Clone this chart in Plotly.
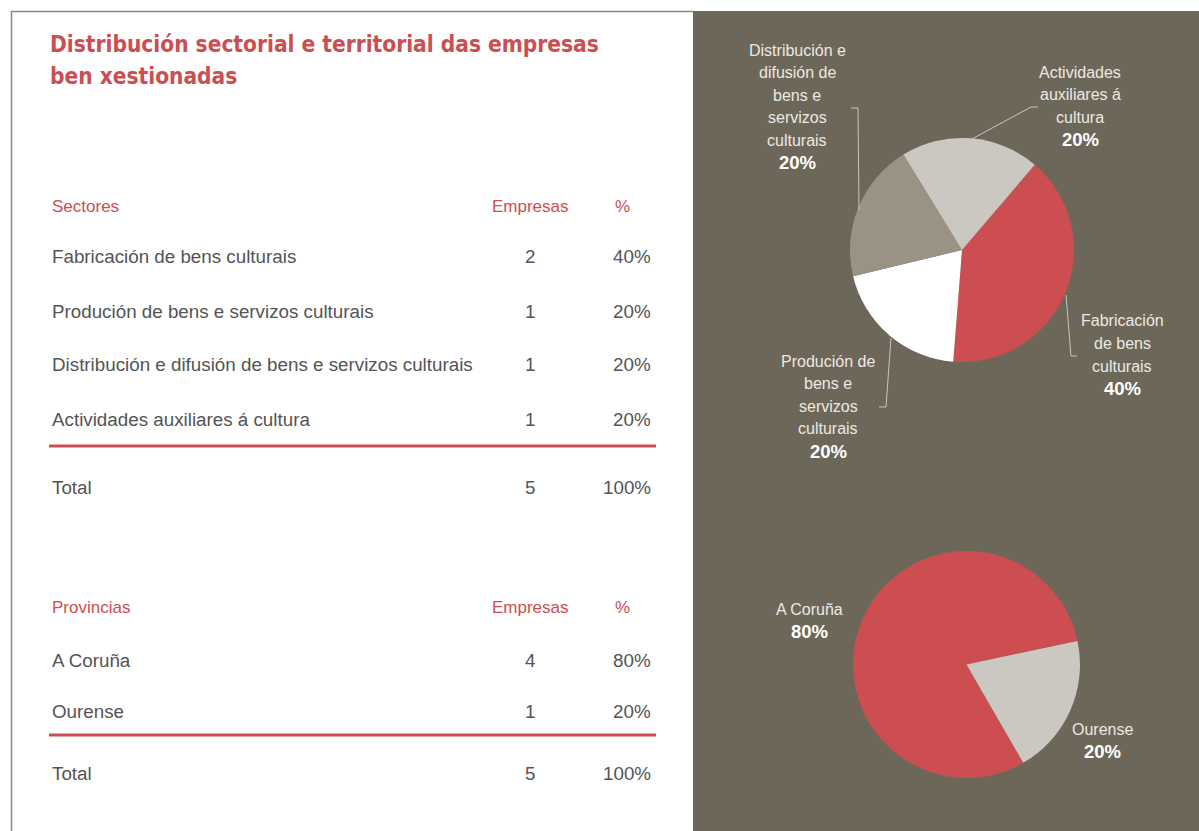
import plotly.graph_objects as go

W, H = 1199, 831

# ---------------- data ----------------
title_lines = ["Distribución sectorial e territorial das empresas", "ben xestionadas"]
col_headers = ["Empresas", "%"]

sectores = ["Fabricación de bens culturais",
            "Produción de bens e servizos culturais",
            "Distribución e difusión de bens e servizos culturais",
            "Actividades auxiliares á cultura"]
sect_empresas = [2, 1, 1, 1]
sect_pct = ["40%", "20%", "20%", "20%"]
sect_total = [5, "100%"]

provincias = ["A Coruña", "Ourense"]
prov_empresas = [4, 1]
prov_pct = ["80%", "20%"]
prov_total = [5, "100%"]

sect_pie_labels = ["Fabricación<br>de bens<br>culturais",
                   "Produción de<br>bens e<br>servizos<br>culturais",
                   "Distribución e<br>difusión de<br>bens e<br>servizos<br>culturais",
                   "Actividades<br>auxiliares á<br>cultura"]
prov_pie_labels = ["A Coruña", "Ourense"]

# ---------------- style ----------------
RED = "#cc4e50"
PANEL = "#6d675a"
TXT = "#545454"
LBL = "#ece9e2"
sect_colors = [RED, "#ffffff", "#9a9384", "#cbc8c1"]
prov_colors = [RED, "#cbc8c1"]
FONT = "DejaVu Sans Condensed, Liberation Sans Narrow, Liberation Sans, Arial, sans-serif"
TFONT = "Liberation Sans, Arial, sans-serif"


def px(x):
    return x / W


def py(y):
    return 1 - y / H


fig = go.Figure()


def dom(x0, x1, y0, y1):
    return dict(x=[px(x0), px(x1)], y=[py(y1), py(y0)])


fig.add_trace(go.Pie(
    labels=sectores, values=sect_empresas, sort=False, direction="clockwise",
    rotation=40.5, marker=dict(colors=sect_colors, line=dict(width=0)),
    textinfo="none", domain=dom(850, 1074, 138, 362), showlegend=False,
    hoverinfo="label+percent"))

fig.add_trace(go.Pie(
    labels=provincias, values=prov_empresas, sort=False, direction="clockwise",
    rotation=150, marker=dict(colors=prov_colors, line=dict(width=0)),
    textinfo="none", domain=dom(853, 1080, 551, 778), showlegend=False,
    hoverinfo="label+percent"))

shapes = []
annotations = []

# panel & border
shapes.append(dict(type="rect", xref="paper", yref="paper", x0=px(693), x1=1, y0=0, y1=py(11),
                   fillcolor=PANEL, line=dict(width=0), layer="below"))
shapes.append(dict(type="line", xref="paper", yref="paper", x0=px(11), x1=px(693), y0=py(11.5), y1=py(11.5),
                   line=dict(color="#8d887d", width=1.5), layer="below"))
shapes.append(dict(type="line", xref="paper", yref="paper", x0=px(11.5), x1=px(11.5), y0=py(11), y1=0,
                   line=dict(color="#8d887d", width=1.5), layer="below"))


def text(x, y, s, size, color, anchor="left", font=TFONT):
    annotations.append(dict(x=px(x), y=py(y), xref="paper", yref="paper", text=s, showarrow=False,
                            xanchor=anchor, yanchor="middle", align=anchor if anchor != "center" else "center",
                            borderpad=0, font=dict(family=font, size=size, color=color)))


# title
text(49, 44, "<b>" + title_lines[0] + "</b>", 22.5, RED, font=FONT)
text(49, 76, "<b>" + title_lines[1] + "</b>", 22.5, RED, font=FONT)

X_NAME, X_EMP, X_PCT_HDR, X_PCT = 51, 530, 622, 652


def table(header, y_hdr, names, emps, pcts, ys, y_line, total, y_total):
    text(X_NAME, y_hdr, header, 17, RED)
    text(X_EMP, y_hdr, col_headers[0], 17, RED, "center")
    text(X_PCT_HDR, y_hdr, col_headers[1], 17, RED, "center")
    for n, e, p, y in zip(names, emps, pcts, ys):
        text(X_NAME, y, n, 18.8, TXT)
        text(X_EMP, y, str(e), 18.8, TXT, "center")
        text(X_PCT, y, p, 18.8, TXT, "right")
    shapes.append(dict(type="line", xref="paper", yref="paper", x0=px(49), x1=px(656), y0=py(y_line),
                       y1=py(y_line), line=dict(color=RED, width=3)))
    text(X_NAME, y_total, "Total", 18.8, TXT)
    text(X_EMP, y_total, str(total[0]), 18.8, TXT, "center")
    text(X_PCT, y_total, total[1], 18.8, TXT, "right")


table("Sectores", 206, sectores, sect_empresas, sect_pct, [256, 311, 365, 419], 446, sect_total, 488)
table("Provincias", 607, provincias, prov_empresas, prov_pct, [660, 711], 735, prov_total, 773)

# pie labels (center x, top line y)
LINE_H = 22.6


def pie_label(cx, y0, label, pct):
    lines = label.split("<br>")
    for i, l in enumerate(lines):
        text(cx, y0 + i * LINE_H, l, 16, LBL, "center")
    text(cx, y0 + len(lines) * LINE_H, "<b>" + pct + "</b>", 18.5, "#ffffff", "center")


pie_label(1122, 321, sect_pie_labels[0], sect_pct[0])
pie_label(828, 361, sect_pie_labels[1], sect_pct[1])
pie_label(797, 50, sect_pie_labels[2], sect_pct[2])
pie_label(1080, 72, sect_pie_labels[3], sect_pct[3])
pie_label(809, 609, prov_pie_labels[0], prov_pct[0])
pie_label(1102, 729, prov_pie_labels[1], prov_pct[1])


def leader(pts):
    path = "M " + " L ".join(f"{px(x)},{py(y)}" for x, y in pts)
    shapes.append(dict(type="path", xref="paper", yref="paper", path=path,
                       line=dict(color="#c9c6bd", width=1)))


leader([(1066, 295), (1071, 356), (1077, 356)])
leader([(891, 338), (886, 407), (879, 407)])
leader([(851, 108), (858, 108), (859, 210)])
leader([(970, 140), (1031, 107), (1038, 107)])

fig.update_layout(width=W, height=H, margin=dict(l=0, r=0, t=0, b=0),
                  paper_bgcolor="#ffffff", plot_bgcolor="#ffffff",
                  shapes=shapes, annotations=annotations, showlegend=False)

fig.write_html("out.html", config={"displayModeBar": False},
               post_script="document.body.style.margin='0';")
